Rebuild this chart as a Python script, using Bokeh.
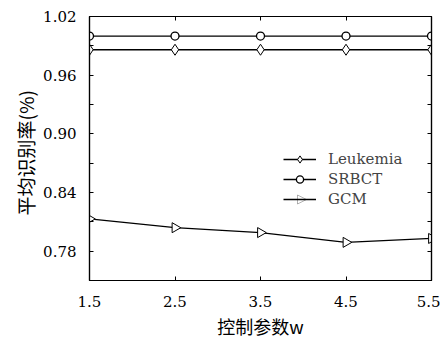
import math
from bokeh.plotting import figure
from bokeh.models import (FixedTicker, LinearAxis, Range1d, Legend, LegendItem,
                          PolyAnnotation)
from bokeh.embed import file_html
from bokeh.resources import INLINE

w_values = [1.5, 2.5, 3.5, 4.5, 5.5]
leukemia = [0.986, 0.986, 0.986, 0.986, 0.986]
srbct = [1.000, 1.000, 1.000, 1.000, 1.000]
gcm = [0.813, 0.804, 0.799, 0.789, 0.793]
y_ticks = [0.75, 0.78, 0.81, 0.84, 0.87, 0.90, 0.93, 0.96, 0.99, 1.02]
y_labels = ["", "0.78", "", "0.84", "", "0.90", "", "0.96", "", "1.02"]
x_ticks = [1.5, 2.5, 3.5, 4.5, 5.5]

SERIF = "DejaVu Serif"
CJK = "Noto Sans CJK SC"

p = figure(width=440, height=341, output_backend="svg", toolbar_location=None,
           x_range=Range1d(1.5, 5.5), y_range=Range1d(0.75, 1.02),
           min_border_left=89, min_border_right=9, min_border_top=16, min_border_bottom=56)
p.grid.visible = False
p.outline_line_color = "black"
p.outline_line_width = 1.2
p.background_fill_color = "white"
p.border_fill_color = "white"

def style(ax, labels=True):
    ax.axis_line_color = "black"
    ax.axis_line_width = 1.2
    ax.major_tick_in = 4
    ax.major_tick_out = 0
    ax.minor_tick_line_color = None
    ax.major_tick_line_color = "black"
    ax.major_label_text_font = SERIF
    ax.major_label_text_font_size = "15px" if labels else "0px"
    ax.major_label_text_color = "black"
    if not labels:
        ax.major_label_standoff = 0

p.xaxis.ticker = FixedTicker(ticks=x_ticks)
p.yaxis.ticker = FixedTicker(ticks=y_ticks)
p.yaxis.major_label_overrides = {t: l for t, l in zip(y_ticks, y_labels)}
p.xaxis.major_label_overrides = {t: str(t) for t in x_ticks}
style(p.xaxis[0]); style(p.yaxis[0])
p.xaxis.major_label_standoff = 15
p.yaxis.major_label_standoff = 13

p.yaxis.axis_label = "平均识别率(%)\u00a0\u00a0"
p.yaxis.axis_label_text_font = CJK
p.yaxis.axis_label_text_font_style = "normal"
p.yaxis.axis_label_text_font_size = "19px"
p.yaxis.axis_label_text_color = "black"
p.yaxis.axis_label_standoff = 1

p.xaxis.axis_label = "控制参数w"
p.xaxis.axis_label_text_font = CJK
p.xaxis.axis_label_text_font_style = "normal"
p.xaxis.axis_label_text_font_size = "18px"
p.xaxis.axis_label_text_color = "black"
p.xaxis.axis_label_standoff = 3

top = LinearAxis(ticker=FixedTicker(ticks=x_ticks))
right = LinearAxis(ticker=FixedTicker(ticks=y_ticks))
style(top, False); style(right, False)
p.add_layout(top, "above")
p.add_layout(right, "right")

r1 = p.line(w_values, leukemia, line_color="black", line_width=1.3)
m1 = p.scatter(w_values, leukemia, marker="diamond", size=11, fill_color="white",
               line_color="black", line_width=1)
r2 = p.line(w_values, srbct, line_color="black", line_width=1.3)
m2 = p.scatter(w_values, srbct, marker="circle", size=8, fill_color="white",
               line_color="black", line_width=1.3)
r3 = p.line(w_values, gcm, line_color="black", line_width=1.3)
m3 = p.scatter(w_values, gcm, marker="triangle", size=10, angle=-math.pi / 2,
               fill_color="white", line_color="black", line_width=1)

legend = Legend(items=[LegendItem(label="Leukemia", renderers=[r1, m1]),
                       LegendItem(label="SRBCT", renderers=[r2, m2]),
                       LegendItem(label="GCM", renderers=[r3])],
                location=(194, 72), border_line_color=None, background_fill_alpha=0,
                label_text_font=SERIF, label_text_font_size="15px",
                glyph_width=33, glyph_height=18, label_standoff=12, spacing=2,
                padding=4, margin=0, label_height=18)
p.add_layout(legend)

# right-pointing triangle for the GCM legend sample (frame-relative screen units)
p.add_layout(PolyAnnotation(xs=[208, 208, 217], ys=[76.5, 85.5, 81],
                            xs_units="screen", ys_units="screen",
                            fill_color="white", fill_alpha=1,
                            line_color="black", line_width=1))

open("out.html", "w").write(file_html(p, INLINE))
